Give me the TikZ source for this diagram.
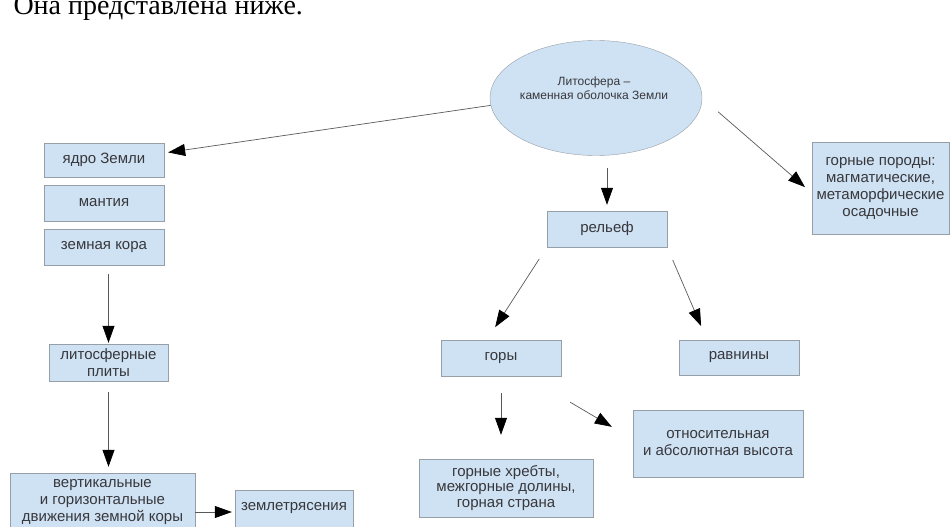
\documentclass[tikz,border=0pt]{standalone}
\usepackage{fontspec}
\setmainfont{Liberation Serif}
\setsansfont{Liberation Sans}
\usetikzlibrary{shapes.geometric,arrows.meta}
\definecolor{boxfill}{RGB}{207,226,243}
\definecolor{boxline}{RGB}{150,158,168}
\definecolor{txt}{RGB}{55,55,60}

\begin{document}
\begin{tikzpicture}[x=1pt,y=-1pt,
	blk/.style={draw=boxline,fill=boxfill,align=center,inner sep=0pt,text=txt,font=\sffamily\fontsize{15}{17}\selectfont},
	arr/.style={-{Triangle[length=17pt,width=12pt,color=black]},draw=black!65,line width=0.7pt}]
	\useasboundingbox (0,0) rectangle (950,527);
	\node[anchor=base west,font=\fontsize{28}{30}\selectfont] (intro) at (10,15) {Она представлена ниже.};

	\node[blk,ellipse,minimum width=212pt,minimum height=115pt] (ell) at (596,98) {};
	\node[text=txt,align=center,font=\sffamily\fontsize{12}{13.5}\selectfont] (elltext) at (594,88) {Литосфера –\\каменная оболочка Земли};

	% left column
	\node[blk,minimum width=120pt,minimum height=34pt] (jadro) at (104,160) {ядро Земли};
	\node[blk,minimum width=120pt,minimum height=36pt] (mantia) at (104,203) {мантия};
	\node[blk,minimum width=120pt,minimum height=36pt] (kora) at (104,247) {земная кора};
	\node[blk,minimum width=119pt,minimum height=37pt] (plity) at (108.5,362.5) {литосферные\\плиты};
	\node[blk,minimum width=185pt,minimum height=58pt] (dvizh) at (102.5,502) {вертикальные\\и горизонтальные\\движения земной коры};
	\node[blk,minimum width=118pt,minimum height=37pt] (zemletr) at (294,508.5) {землетрясения};

	% right part
	\node[blk,minimum width=120pt,minimum height=36pt] (relief) at (607,229) {рельеф};
	\node[blk,minimum width=120pt,minimum height=36pt] (gory) at (501,358) {горы};
	\node[blk,minimum width=120pt,minimum height=35pt] (ravn) at (739,357.5) {равнины};
	\node[blk,minimum width=170pt,minimum height=67pt] (otnos) at (718,443.5) {относительная\\и абсолютная высота};
	\node[blk,minimum width=174pt,minimum height=58pt,font=\sffamily\fontsize{15}{15.5}\selectfont] (hrebty) at (506,488) {горные хребты,\\межгорные долины,\\горная страна};
	\node[blk,minimum width=137pt,minimum height=92pt] (porody) at (880.5,188) {горные породы:\\магматические,\\метаморфические\\осадочные};

	\draw[arr,shorten >=4pt] (ell.184) -- ([yshift=7pt]jadro.east);
	\draw[arr,shorten <=12pt,shorten >=6pt] (ell.south -| relief) -- (relief.north);
	\draw[arr,shorten <=21pt,shorten >=9pt] (ell.east) -- ([yshift=-5pt]porody.west);
	\draw[arr,shorten <=14pt,shorten >=15pt] (relief.south west) -- ([xshift=-14pt]gory.north);
	\draw[arr,shorten <=14pt,shorten >=15pt] (relief.south east) -- ([xshift=-32pt]ravn.north);
	\draw[arr,shorten <=17pt,shorten >=24pt] (gory.south) -- (gory.south |- hrebty.north);
	\draw[arr] ([shift={(9pt,-26pt)}]gory.south east) -- ([shift={(-21pt,-17pt)}]otnos.north west);
	\draw[arr,shorten <=9pt,shorten >=1pt] (plity.north |- kora.south) -- (plity.north);
	\draw[arr,shorten <=11pt,shorten >=6pt] (plity.south) -- (plity.south |- dvizh.north);
	\draw[arr,shorten >=3pt] ([yshift=-10pt]dvizh.east) -- ([yshift=-3.5pt]zemletr.west);
\end{tikzpicture}
\end{document}
